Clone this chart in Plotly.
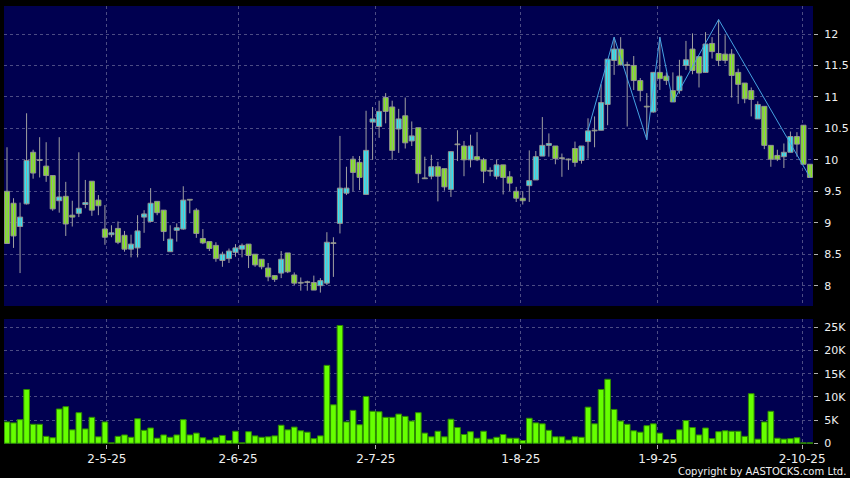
import plotly.graph_objects as go

# daily bars, oldest first (x = trading-day index)
OPEN = [9.50, 9.31, 8.94, 9.30, 10.12, 9.99, 9.90, 9.75, 9.35, 9.42,
        9.12, 9.15, 9.29, 9.66, 9.36, 8.90, 8.81, 8.91, 8.80, 8.58,
        8.60, 9.09, 9.02, 9.34, 9.20, 8.54, 8.88, 8.90, 9.36, 9.20,
        8.75, 8.70, 8.64, 8.40, 8.43, 8.53, 8.58, 8.66, 8.50, 8.42,
        8.28, 8.16, 8.20, 8.52, 8.17, 8.04, 8.05, 8.05, 8.00, 8.04,
        8.67, 8.99, 9.47, 10.01, 9.96, 9.45, 10.60, 10.53, 10.99, 10.84,
        10.49, 10.70, 10.30, 10.51, 9.70, 9.74, 9.89, 9.86, 9.53, 10.24,
        10.22, 10.00, 10.05, 10.00, 9.82, 9.74, 9.92, 9.73, 9.50, 9.39,
        9.59, 9.68, 10.06, 10.23, 10.22, 10.02, 10.00, 10.18, 9.99, 10.29,
        10.46, 10.47, 10.88, 11.58, 11.76, 11.50, 11.50, 11.26, 10.84, 10.76,
        11.39, 11.33, 11.10, 11.10, 11.50, 11.76, 11.64, 11.39, 11.85, 11.69,
        11.68, 11.68, 11.39, 11.22, 11.10, 10.65, 10.85, 10.23, 10.07, 10.05,
        10.12, 10.37, 10.55, 9.93]
HIGH = [10.20, 9.39, 9.32, 10.74, 10.16, 10.36, 10.28, 9.75, 10.36, 9.65,
        9.35, 10.12, 9.68, 9.66, 9.44, 9.28, 8.96, 9.02, 8.87, 8.81,
        9.12, 9.20, 9.55, 9.34, 9.20, 8.96, 8.99, 9.58, 9.36, 9.23,
        8.90, 8.70, 8.69, 8.54, 8.59, 8.66, 8.67, 8.66, 8.50, 8.42,
        8.36, 8.16, 8.55, 8.52, 8.21, 8.13, 8.08, 8.16, 8.12, 8.85,
        8.77, 10.38, 9.89, 10.06, 10.06, 10.78, 10.84, 10.94, 11.06, 10.94,
        10.81, 10.99, 10.61, 10.51, 10.05, 10.08, 9.97, 9.86, 10.13, 10.47,
        10.30, 10.40, 10.44, 10.03, 9.88, 10.00, 9.92, 9.82, 9.57, 9.50,
        10.15, 10.14, 10.68, 10.42, 10.22, 10.10, 10.02, 10.29, 10.22, 10.66,
        10.69, 11.20, 11.60, 11.95, 11.95, 11.56, 11.65, 11.30, 11.06, 11.39,
        11.95, 11.39, 11.39, 11.59, 11.89, 12.01, 11.64, 12.03, 11.95, 12.23,
        11.98, 11.76, 11.45, 11.22, 11.15, 10.93, 10.85, 10.23, 10.16, 10.26,
        10.45, 10.44, 10.55, 9.93]
LOW = [8.67, 8.60, 8.20, 9.29, 9.70, 9.72, 9.65, 9.19, 9.16, 8.79,
       8.94, 9.09, 9.23, 9.11, 9.12, 8.65, 8.77, 8.66, 8.54, 8.45,
       8.45, 8.84, 9.01, 9.12, 8.71, 8.54, 8.70, 8.89, 9.15, 8.76,
       8.66, 8.55, 8.38, 8.30, 8.36, 8.46, 8.45, 8.28, 8.30, 8.26,
       8.07, 8.06, 8.12, 8.20, 8.01, 7.92, 7.92, 7.93, 7.89, 8.01,
       8.14, 8.83, 9.44, 9.50, 9.52, 9.45, 10.00, 10.35, 10.58, 10.00,
       10.11, 10.18, 10.22, 9.63, 9.70, 9.69, 9.34, 9.51, 9.41, 9.98,
       9.74, 9.88, 9.98, 9.63, 9.74, 9.69, 9.45, 9.50, 9.33, 9.29,
       9.33, 9.68, 10.06, 10.05, 9.93, 9.73, 9.84, 9.89, 9.94, 10.02,
       10.20, 10.47, 10.55, 11.35, 11.50, 10.53, 11.11, 10.93, 10.32, 10.75,
       11.11, 11.19, 10.92, 11.05, 11.43, 11.36, 11.15, 11.39, 11.61, 11.49,
       11.53, 10.99, 10.89, 10.90, 10.69, 10.65, 10.17, 9.89, 9.98, 9.87,
       10.12, 10.05, 9.93, 9.72]
CLOSE = [8.67, 8.79, 9.09, 9.99, 9.79, 9.99, 9.75, 9.22, 9.41, 8.98,
         9.09, 9.23, 9.32, 9.20, 9.27, 8.77, 8.84, 8.69, 8.58, 8.66,
         8.87, 9.14, 9.31, 9.16, 8.86, 8.74, 8.92, 9.36, 9.36, 8.83,
         8.68, 8.59, 8.43, 8.50, 8.55, 8.60, 8.64, 8.48, 8.33, 8.30,
         8.14, 8.10, 8.42, 8.22, 8.04, 8.04, 8.05, 7.93, 8.08, 8.69,
         8.67, 9.55, 9.55, 9.80, 9.72, 10.15, 10.65, 10.77, 10.77, 10.15,
         10.65, 10.27, 10.38, 9.78, 9.70, 9.89, 9.74, 9.57, 10.13, 10.24,
         10.00, 10.22, 10.00, 9.82, 9.82, 9.92, 9.72, 9.63, 9.39, 9.35,
         9.67, 10.05, 10.23, 10.26, 10.02, 10.02, 10.00, 9.96, 10.22, 10.46,
         10.46, 10.91, 11.60, 11.76, 11.51, 11.50, 11.26, 11.10, 10.84, 11.39,
         11.29, 11.26, 10.92, 11.33, 11.59, 11.42, 11.38, 11.84, 11.72, 11.58,
         11.58, 11.34, 11.20, 10.97, 10.96, 10.88, 10.23, 10.01, 10.01, 10.12,
         10.37, 10.25, 9.93, 9.72]
VOLUME = [4600, 4400, 5100, 11600, 4100, 4100, 1500, 1200, 7400, 7900,
          2900, 6600, 3100, 5600, 1400, 4600, 100, 1500, 1800, 1300,
          5300, 2800, 3300, 1100, 1800, 1300, 1800, 5100, 1800, 2200,
          1200, 700, 1200, 1700, 600, 2600, 100, 2500, 1600, 1300,
          1400, 1600, 3900, 2900, 3500, 2700, 2400, 1000, 1600, 16800,
          8300, 25400, 4600, 7100, 4000, 10100, 6900, 6800, 5600, 5600,
          6300, 5800, 4800, 6600, 2200, 1400, 2600, 1400, 5200, 3400,
          1900, 2500, 1100, 2600, 900, 1300, 1900, 1100, 1100, 600,
          5400, 4400, 4200, 2800, 1400, 1400, 700, 1400, 1300, 7800,
          4200, 11600, 13800, 7300, 4800, 4100, 2700, 2400, 3800, 4200,
          2200, 800, 800, 2900, 4900, 3400, 1800, 3300, 1000, 2500,
          2700, 2600, 2600, 1500, 10700, 900, 4600, 6900, 1100, 900,
          1000, 1200, 100, 100]

# zigzag pivots (bar index, price)
ZZ_IDX = [89, 93, 98, 100, 102, 109, 123]
ZZ_VAL = [10.47, 11.95, 10.32, 11.95, 10.92, 12.23, 9.72]

TICK_POS = [15.3, 35.4, 56.5, 78.7, 99.7, 121.8]
TICK_TEXT = ["2-5-25", "2-6-25", "2-7-25", "1-8-25", "1-9-25", "2-10-25"]
PRICE_TICKS = [8, 8.5, 9, 9.5, 10, 10.5, 11, 11.5, 12]
VOL_TICKS = [0, 5000, 10000, 15000, 20000, 25000]
VOL_TEXT = ["0", "5K", "10K", "15K", "20K", "25K"]

UP = "#2de4f4"
DOWN = "#82e61e"
GRID = "#4c4c84"
FONT = dict(family="DejaVu Sans", size=11, color="#f0f0f0")

idx = list(range(len(CLOSE)))

# wicks as one broken line
wick_x, wick_y = [], []
for i in idx:
    wick_x += [i, i, None]
    wick_y += [LOW[i], HIGH[i], None]

# bodies: bar from min(open, close); dojis get a 1px sliver so they show as a dash
body_base = [min(o, c) for o, c in zip(OPEN, CLOSE)]
body_h = [max(abs(c - o), 0.012) for o, c in zip(OPEN, CLOSE)]
body_col = [UP if c > o else DOWN for o, c in zip(OPEN, CLOSE)]

fig = go.Figure()

fig.add_trace(go.Scatter(x=wick_x, y=wick_y, mode="lines",
                         line=dict(color="#a0a0a0", width=1),
                         xaxis="x2", yaxis="y2", hoverinfo="skip"))

fig.add_trace(go.Bar(x=idx, y=body_h, base=body_base, width=0.78,
                     marker=dict(color=body_col, line=dict(color="#909090", width=1)),
                     xaxis="x2", yaxis="y2", hoverinfo="skip"))

fig.add_trace(go.Scatter(x=ZZ_IDX, y=ZZ_VAL, mode="lines",
                         line=dict(color="#45a2e2", width=1),
                         xaxis="x2", yaxis="y2", hoverinfo="skip"))

fig.add_trace(go.Bar(x=idx, y=VOLUME, width=0.87,
                     marker=dict(color="#66ff00", line=dict(color="#2e8a00", width=1)),
                     xaxis="x", yaxis="y", hoverinfo="skip"))

x_common = dict(range=[-0.46, 123.46], tickvals=TICK_POS, showgrid=True,
                gridcolor=GRID, griddash="3px,3px", gridwidth=1,
                zeroline=False, showline=False, automargin=False)
y_common = dict(side="right", showgrid=True, gridcolor=GRID, griddash="3px,3px",
                gridwidth=1, zeroline=False, showline=False, ticks="outside",
                ticklen=4, tickcolor="#b0b0b0", tickfont=FONT,
                ticklabelstandoff=4, automargin=False)

fig.update_layout(
    width=850, height=478,
    paper_bgcolor="#000000", plot_bgcolor="#000050",
    margin=dict(l=4, r=37, t=6, b=34, autoexpand=False),
    showlegend=False,
    xaxis=dict(**x_common, anchor="y", ticktext=TICK_TEXT, ticks="outside",
               ticklen=4, tickcolor="#b0b0b0",
               tickfont=dict(family="DejaVu Sans", size=12, color="#f0f0f0")),
    xaxis2=dict(**x_common, anchor="y2", matches="x", showticklabels=False),
    yaxis=dict(**y_common, domain=[0, 0.2854], range=[-150, 26800],
               tickvals=VOL_TICKS, ticktext=VOL_TEXT),
    yaxis2=dict(**y_common, domain=[0.3151, 1], range=[7.677, 12.445],
                tickvals=PRICE_TICKS),
    annotations=[dict(text="Copyright by AASTOCKS.com Ltd.", xref="paper", yref="paper",
                      x=1.0435, y=-0.062, xanchor="right", yanchor="middle",
                      showarrow=False,
                      font=dict(family="DejaVu Sans", size=10, color="#f0f0f0"))],
)

fig.write_html("out.html", config={"displayModeBar": False},
               post_script="document.body.style.margin='0';")
